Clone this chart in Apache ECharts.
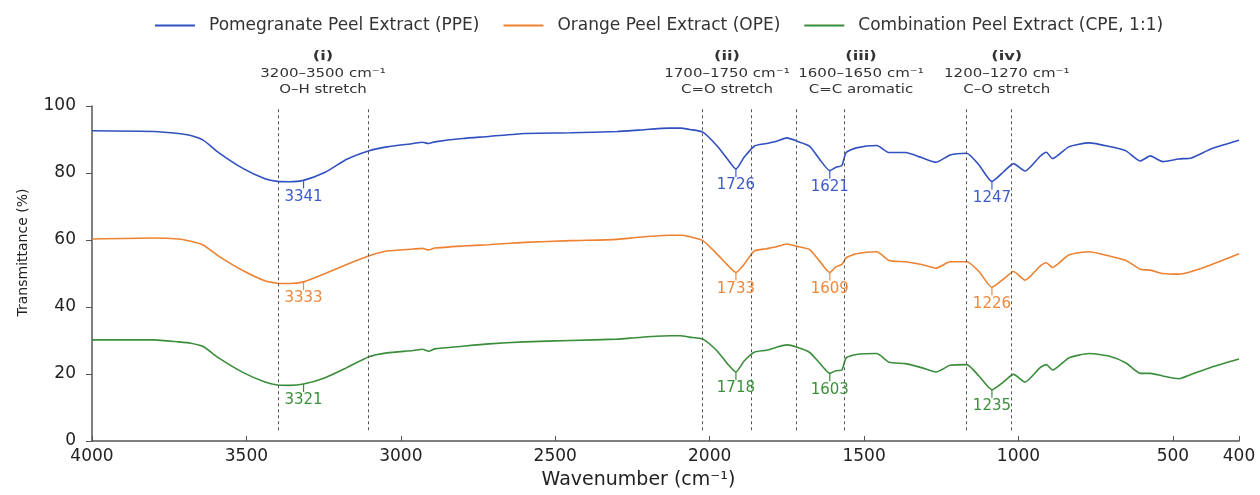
<!DOCTYPE html>
<html>
<head>
<meta charset="utf-8">
<script src="https://cdn.jsdelivr.net/npm/echarts@6/dist/echarts.min.js"></script>
<style>
  html, body { margin: 0; padding: 0; background: #fff; }
  #chart { width: 1260px; height: 495px; }
</style>
</head>
<body>
<div id="chart"></div>
<script>
  // wavenumber grid (cm-1) shared by the three spectra
  const wavenumber = [4000, 3800, 3720, 3680, 3640, 3590, 3510, 3440, 3400, 3360, 3315, 3245, 3175, 3105, 3045, 2960, 2930, 2910, 2890, 2800,
    2715, 2600, 2450, 2300, 2230, 2130, 2095, 2065, 2022, 1975, 1942, 1915, 1889, 1856, 1816, 1783, 1750, 1717, 1677, 1644,
    1611, 1591, 1572, 1558, 1525, 1459, 1419, 1366, 1314, 1267, 1221, 1168, 1128, 1086, 1049, 1016, 979, 930, 910, 890,
    837, 771, 705, 652, 606, 573, 533, 491, 472, 441, 400];
  const ppe = [92.6, 92.4, 91.8, 91.2, 89.8, 86.1, 81.3, 78.3, 77.5, 77.4, 77.8, 80.2, 84.1, 86.6, 87.8, 88.8, 89.2, 88.8, 89.3, 90.3,
    90.9, 91.8, 92.0, 92.4, 92.8, 93.4, 93.4, 93.0, 92.2, 88.0, 84.1, 81.2, 84.6, 88.0, 88.8, 89.5, 90.5, 89.5, 88.0, 84.1,
    80.7, 81.7, 82.2, 86.1, 87.5, 88.2, 86.1, 86.1, 84.6, 83.2, 85.4, 85.9, 82.4, 77.5, 80.3, 82.8, 80.6, 85.0, 86.2, 84.3,
    87.8, 89.0, 87.9, 86.6, 83.6, 85.1, 83.4, 84.2, 84.5, 87.3, 89.8];
  const ope = [60.3, 60.6, 60.3, 59.6, 58.5, 55.2, 50.8, 47.8, 47.1, 47.0, 47.5, 50.0, 52.7, 55.2, 56.7, 57.3, 57.5, 57.0, 57.6, 58.2,
    58.6, 59.3, 59.8, 60.2, 60.8, 61.4, 61.4, 61.0, 59.8, 55.7, 52.5, 50.3, 52.7, 56.7, 57.4, 58.0, 58.8, 58.1, 57.2, 53.7,
    50.3, 52.0, 52.7, 54.7, 55.9, 56.5, 53.9, 53.5, 52.7, 51.6, 53.5, 53.5, 50.6, 45.9, 48.3, 50.6, 48.0, 52.2, 53.2, 51.8,
    55.5, 56.5, 55.2, 53.9, 51.3, 51.0, 50.0, 49.8, 50.6, 52.7, 55.9];
  const cpe = [30.2, 30.2, 29.6, 29.2, 28.2, 24.8, 20.4, 17.6, 16.7, 16.6, 17.0, 18.9, 21.9, 25.1, 26.3, 27.0, 27.4, 26.8, 27.5, 28.3,
    29.0, 29.6, 30.0, 30.4, 30.9, 31.4, 31.4, 31.0, 30.4, 26.8, 23.0, 20.6, 23.8, 26.5, 27.1, 28.0, 28.7, 28.0, 26.5, 23.3,
    20.2, 21.0, 21.2, 24.8, 25.8, 26.1, 23.5, 23.1, 21.9, 20.6, 22.6, 22.8, 19.4, 15.3, 17.6, 19.9, 17.6, 21.9, 22.8, 21.2,
    24.8, 26.1, 25.3, 23.3, 20.2, 20.2, 19.4, 18.6, 19.9, 22.1, 24.5];

  const seriesNames = ['Pomegranate Peel Extract (PPE)', 'Orange Peel Extract (OPE)', 'Combination Peel Extract (CPE, 1:1)'];

  // peak markers: where the tick sits on the plot, and the printed label
  const peakAt = [3315, 1915, 1611, 1086];
  const ppePeakLabels = ['3341', '1726', '1621', '1247'];
  const opePeakLabels = ['3333', '1733', '1609', '1226'];
  const cpePeakLabels = ['3321', '1718', '1603', '1235'];

  // dashed band edges and band headers
  const bandEdges = [3397, 3107, 2023, 1865, 1719, 1565, 1168, 1022];
  const bandCenters = [3252, 1944, 1510, 1038];
  const bandTitles = ['(i)', '(ii)', '(iii)', '(iv)'];
  const bandRanges = ['3200–3500 cm⁻¹', '1700–1750 cm⁻¹', '1600–1650 cm⁻¹', '1200–1270 cm⁻¹'];
  const bandModes = ['O–H stretch', 'C=O stretch', 'C=C aromatic', 'C–O stretch'];

  const xTicks = [4000, 3500, 3000, 2500, 2000, 1500, 1000, 500, 400];

  // the last axis segment (500 -> 400) is drawn wider than the rest in the figure
  const SQUEEZE = 2.14;
  function toAxis(w) { return w >= 500 ? w : 500 - (500 - w) * SQUEEZE; }
  function fromAxis(u) { return u >= 500 ? u : 500 - (500 - u) / SQUEEZE; }

  const colors = ['#3150c0', '#ec8232', '#3a8d3a'];
  const labelColors = ['#3d5cc8', '#f0883c', '#3c8f3c'];
  const font = '"DejaVu Sans", Verdana, sans-serif';

  function pairs(vals) {
    return wavenumber.map((w, i) => [toAxis(w), vals[i]]);
  }

  function peakMarks(vals, labels, idx) {
    return {
      symbol: 'rect',
      symbolSize: [1.2, 8],
      symbolOffset: [0, 4],
      itemStyle: { color: labelColors[idx] },
      label: {
        show: true, position: 'bottom', distance: 1, formatter: '{b}',
        color: labelColors[idx], fontSize: 15, fontFamily: font
      },
      silent: true,
      data: peakAt.map((w, i) => {
        let k = wavenumber.indexOf(w);
        return { name: labels[i], coord: [toAxis(w), vals[k]] };
      })
    };
  }

  function lineSeries(name, vals, labels, idx) {
    return {
      name: name,
      type: 'line',
      data: pairs(vals),
      showSymbol: false,
      symbol: 'none',
      smooth: 0.2,
      lineStyle: { color: colors[idx], width: 1.6 },
      itemStyle: { color: colors[idx] },
      markPoint: peakMarks(vals, labels, idx)
    };
  }

  let chart = echarts.init(document.getElementById('chart'));
  let opt = {
    animation: false,
    textStyle: { fontFamily: font },
    legend: {
      top: 12,
      left: 150,
      itemWidth: 40,
      itemHeight: 2,
      itemGap: 24,
      icon: 'rect',
      textStyle: { fontSize: 17, color: '#333', fontFamily: font, padding: [0, 0, 0, 9] },
      data: seriesNames
    },
    grid: { left: 92, right: 21, top: 106, bottom: 49 },
    xAxis: {
      type: 'value',
      inverse: true,
      min: toAxis(400),
      max: 4000,
      name: 'Wavenumber (cm⁻¹)',
      nameLocation: 'middle',
      nameGap: 30,
      nameTextStyle: { fontSize: 19, color: '#222', fontFamily: font, padding: [0, 54, 0, 0] },
      axisLine: { lineStyle: { color: '#555', width: 1.5 } },
      axisTick: { inside: true, length: 5, customValues: xTicks.map(toAxis), lineStyle: { color: '#555' } },
      axisLabel: {
        customValues: xTicks.map(toAxis),
        formatter: v => String(Math.round(fromAxis(v))),
        fontSize: 17, color: '#222', margin: 7
      },
      splitLine: { show: false }
    },
    yAxis: {
      type: 'value',
      min: 0,
      max: 100,
      interval: 20,
      name: 'Transmittance (%)',
      nameLocation: 'middle',
      nameGap: 62,
      nameTextStyle: { fontSize: 14, color: '#222', fontFamily: font, padding: [0, 0, 0, 42] },
      axisLine: { show: true, lineStyle: { color: '#555', width: 1.5 } },
      axisTick: { show: true, length: 6, lineStyle: { color: '#555' } },
      axisLabel: { fontSize: 17, color: '#222', margin: 16 },
      splitLine: { show: false }
    },
    series: [
      lineSeries(seriesNames[0], ppe, ppePeakLabels, 0),
      lineSeries(seriesNames[1], ope, opePeakLabels, 1),
      lineSeries(seriesNames[2], cpe, cpePeakLabels, 2),
      {
        name: 'bands',
        type: 'line',
        data: [],
        markLine: {
          silent: true,
          symbol: ['none', 'none'],
          label: { show: false },
          lineStyle: { color: '#555', type: [3, 3], width: 1 },
          data: bandEdges.map(w => [{ coord: [toAxis(w), 3.2] }, { coord: [toAxis(w), 99.4] }])
        }
      }
    ]
  };
  chart.setOption(opt);

  // band headers above the plot (text in the figure is drawn wide)
  let gr = [];
  bandCenters.forEach((w, i) => {
    let x = chart.convertToPixel({ xAxisIndex: 0 }, toAxis(w));
    gr.push({ type: 'text', x: x, y: 57, scaleX: 1.25, style: { text: bandTitles[i], font: 'bold 13px ' + font, fill: '#333', align: 'center', verticalAlign: 'middle' } });
    gr.push({ type: 'text', x: x, y: 74, scaleX: 1.25, style: { text: bandRanges[i], font: '12px ' + font, fill: '#333', align: 'center', verticalAlign: 'middle' } });
    gr.push({ type: 'text', x: x, y: 90, scaleX: 1.25, style: { text: bandModes[i], font: '12px ' + font, fill: '#333', align: 'center', verticalAlign: 'middle' } });
  });
  chart.setOption({ graphic: gr });
</script>
</body>
</html>
